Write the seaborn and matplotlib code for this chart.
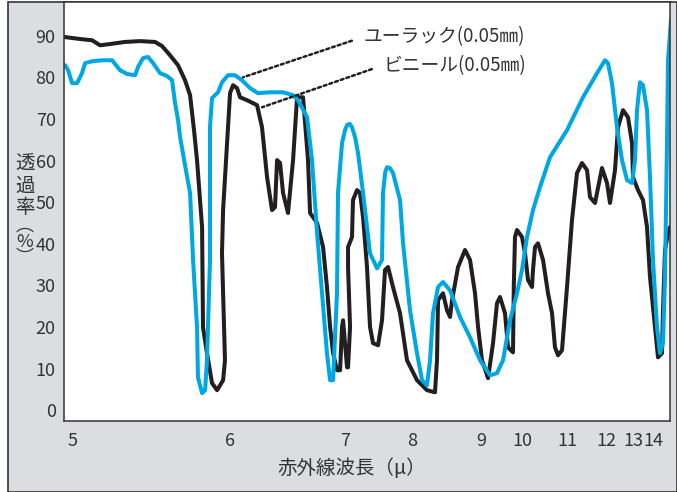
import matplotlib
matplotlib.use('Agg')
import matplotlib.pyplot as plt
import seaborn as sns
import numpy as np
from matplotlib.patches import Rectangle

# wavelength (micron) / transmittance (%)
black_wl = [4.949, 5.051, 5.127, 5.177, 5.241, 5.335, 5.430, 5.525, 5.570, 5.620,
            5.671, 5.715, 5.747, 5.772, 5.791, 5.823, 5.829, 5.854, 5.886, 5.918,
            5.956, 5.968, 5.956, 5.949, 5.956, 5.981, 6.000, 6.026, 6.061, 6.087,
            6.148, 6.235, 6.278, 6.322, 6.365, 6.391, 6.409, 6.435, 6.461, 6.504,
            6.548, 6.583, 6.635, 6.678, 6.696, 6.757, 6.809, 6.843, 6.870, 6.896,
            6.930, 6.957, 6.974, 6.983, 7.000, 7.030, 7.045, 7.075, 7.045, 7.045,
            7.104, 7.119, 7.179, 7.224, 7.269, 7.328, 7.373, 7.418, 7.493, 7.552,
            7.597, 7.642, 7.716, 7.821, 7.925, 8.072, 8.217, 8.333, 8.362, 8.377,
            8.449, 8.507, 8.551, 8.580, 8.667, 8.768, 8.841, 8.913, 8.957, 9.024,
            9.171, 9.293, 9.390, 9.463, 9.585, 9.659, 9.780, 9.800, 9.829, 9.878,
            10.000, 10.067, 10.133, 10.222, 10.244, 10.289, 10.356, 10.467, 10.578, 10.667,
            10.733, 10.800, 10.889, 11.000, 11.128, 11.256, 11.385, 11.513, 11.590, 11.718,
            11.897, 12.037, 12.148, 12.333, 12.444, 12.630, 12.815, 12.963, 13.000, 13.250,
            13.500, 13.700, 13.850, 14.100, 14.250, 14.450, 14.500, 14.600, 14.750, 14.850]
black_pct = [89.7, 89.2, 88.9, 87.7, 88.0, 88.5, 88.7, 88.5, 87.5, 85.3,
             82.9, 79.3, 75.7, 67.3, 60.1, 44.0, 19.9, 13.7, 6.5, 4.8,
             7.2, 12.0, 28.1, 37.7, 48.1, 64.2, 76.2, 78.1, 77.4, 75.2,
             74.5, 73.3, 68.0, 56.0, 48.1, 48.8, 60.1, 59.4, 52.2, 47.4,
             60.1, 75.2, 75.2, 60.1, 47.4, 45.0, 39.2, 29.6, 20.0, 13.7,
             9.6, 9.6, 20.0, 21.6, 16.1, 10.3, 10.3, 20.0, 34.4, 39.2,
             41.6, 50.5, 52.9, 52.2, 46.4, 34.4, 20.0, 16.1, 15.6, 21.6,
             33.7, 34.4, 29.6, 23.3, 12.0, 7.2, 4.8, 4.3, 12.0, 26.4,
             28.1, 24.0, 22.4, 26.4, 34.4, 38.5, 36.1, 28.1, 20.0, 12.0,
             7.7, 16.1, 25.7, 27.2, 23.3, 15.1, 13.9, 30.0, 41.6, 43.3,
             41.6, 37.7, 31.3, 29.6, 33.7, 39.2, 40.1, 36.1, 28.1, 23.3,
             15.1, 13.2, 14.4, 29.6, 45.7, 57.0, 59.4, 57.7, 51.2, 49.8,
             58.2, 54.6, 49.8, 57.7, 68.0, 72.1, 70.4, 64.2, 56.0, 52.9,
             50.5, 44.0, 32.0, 20.0, 12.7, 13.7, 24.0, 38.5, 42.5, 44.0]

blue_wl = [4.956, 4.975, 5.000, 5.032, 5.063, 5.082, 5.133, 5.196, 5.253, 5.304,
           5.348, 5.399, 5.418, 5.449, 5.481, 5.513, 5.557, 5.601, 5.633, 5.652,
           5.671, 5.684, 5.715, 5.747, 5.766, 5.791, 5.797, 5.823, 5.842, 5.854,
           5.873, 5.873, 5.886, 5.924, 5.949, 5.987, 6.043, 6.104, 6.174, 6.243,
           6.348, 6.461, 6.548, 6.591, 6.670, 6.713, 6.757, 6.800, 6.843, 6.870,
           6.896, 6.930, 6.939, 6.974, 7.000, 7.030, 7.070, 7.104, 7.150, 7.194,
           7.269, 7.328, 7.373,
           7.478, 7.552, 7.567, 7.600, 7.627, 7.670, 7.716, 7.821, 7.866, 7.970,
           8.072, 8.145,
           8.217, 8.261, 8.304, 8.377, 8.449, 8.551, 8.696, 8.841, 8.986, 9.220,
           9.390, 9.537, 9.707, 9.878, 10.000, 10.111, 10.244, 10.400, 10.622, 11.000,
           11.410, 11.769, 11.974, 12.074, 12.222, 12.407, 12.593, 12.778, 12.963, 13.100,
           13.200, 13.350, 13.500, 13.700, 13.850, 14.000, 14.200, 14.350, 14.500, 14.600,
           14.700, 14.750, 14.900]
blue_pct = [82.9, 81.7, 78.6, 78.6, 81.0, 83.4, 83.9, 84.1, 84.1, 81.7,
            80.8, 80.5, 82.5, 84.6, 84.9, 83.4, 81.0, 80.3, 79.3, 73.8,
            69.7, 65.6, 58.9, 52.2, 36.1, 20.0, 7.9, 4.1, 4.8, 12.0,
            36.1, 68.0, 75.0, 76.4, 78.8, 80.5, 80.5, 79.3, 77.4, 76.2,
            76.4, 76.4, 75.7, 74.5, 70.4, 60.1, 42.5, 28.1, 13.7, 7.2,
            7.2, 28.1, 52.2, 64.2, 67.3, 68.5, 68.8, 68.0, 65.6, 61.8,
            52.2, 44.0, 37.7,
            34.1, 36.1, 52.2, 57.2, 58.4, 58.2, 57.0, 50.5, 40.1, 24.0,
            13.7, 7.2,
            6.0, 12.0, 23.3, 29.6, 30.8, 28.8, 22.4, 17.5, 12.0, 8.4,
            8.9, 12.0, 21.6, 28.1, 33.7, 41.6, 48.1, 53.6, 60.8, 67.3,
            75.2, 81.0, 84.1, 83.4, 78.6, 68.0, 60.1, 55.3, 54.6, 60.1,
            72.1, 78.8, 78.1, 72.1, 56.0, 36.1, 20.0, 13.7, 16.1, 32.0,
            64.2, 84.1, 93.8]

x_ticks = [5, 6, 7, 8, 9, 10, 11, 12, 13, 14]
y_ticks = [0, 10, 20, 30, 40, 50, 60, 70, 80, 90]
label_a = 'ユーラック(0.05㎜)'
label_b = 'ビニール(0.05㎜)'

# the instrument's non-uniform wavelength axis: pixel position of each tick
scale_wl = [4.9] + x_ticks + [15.0]
scale_px = [56.2, 72, 230, 345, 412, 481, 522, 567, 606, 633, 653, 673]


def fwd(v):
    return np.interp(v, scale_wl, scale_px)


def inv(p):
    return np.interp(p, scale_px, scale_wl)


sns.set_style('white')
plt.rcParams['font.family'] = ['Noto Sans CJK JP', 'DejaVu Sans']

W, H = 677, 492
fig = plt.figure(figsize=(W / 100, H / 100), dpi=100)
fig.patch.set_facecolor('white')
fig.patches.append(Rectangle((8 / W, 0), 1 - 8 / W, 1 - 2 / H, transform=fig.transFigure,
                             facecolor='#dcdde0', edgecolor='#333333', lw=1.2, zorder=-5))

ax = fig.add_axes([64 / W, 1 - 421 / H, 606 / W, 419 / H])
ax.set_zorder(2)
ax.set_facecolor('white')
ax.set_xscale('function', functions=(fwd, inv))

sns.lineplot(x=black_wl, y=black_pct, sort=False, estimator=None, color='#231f20',
             lw=2.9, ax=ax, solid_joinstyle='round', solid_capstyle='round')
sns.lineplot(x=blue_wl, y=blue_pct, sort=False, estimator=None, color='#00a8e3',
             lw=2.9, ax=ax, solid_joinstyle='round', solid_capstyle='round')

ax.set_xlim(4.949, 14.85)
ax.set_ylim(-2.6, 98.1)
ax.set_xticks(x_ticks)
ax.set_xticklabels([str(t) for t in x_ticks])
ax.set_yticks(y_ticks)
ax.set_yticklabels([str(t) for t in y_ticks])
ax.tick_params(length=0, labelsize=13, colors='#333333')
ax.tick_params(axis='x', pad=8)
ax.tick_params(axis='y', pad=6)
ax.minorticks_off()
for s in ax.spines.values():
    s.set_color('#333333')
    s.set_linewidth(1.1)
ax.set_xlabel('')
ax.set_ylabel('')

dots = dict(arrowstyle='-', color='#231f20', lw=1.8, linestyle=(0, (1.2, 1.2)),
            relpos=(0, 0.5), shrinkA=6, shrinkB=0)
ax.annotate(label_a, xy=(6.113, 80.0), xytext=(7.269, 89.7), fontsize=13.5,
            color='#333333', va='center', ha='left', arrowprops=dots)
ax.annotate(label_b, xy=(6.278, 72.8), xytext=(7.567, 82.9), fontsize=13.5,
            color='#333333', va='center', ha='left', arrowprops=dots)

fig.text(352 / W, 1 - 468 / H, '赤外線波長（μ）', ha='center', va='center',
         fontsize=14, color='#333333')
# vertical y label: characters stacked upright, brackets in vertical form
fig.text(25 / W, 1 - 186 / H, '透\n過\n率', ha='center', va='center', fontsize=14,
         color='#333333', linespacing=1.05)
fig.text(25 / W, 1 - 242 / H, '︵\n%\n︶', ha='center', va='center', fontsize=13,
         color='#333333', linespacing=0.88)

fig.savefig('out.png', dpi=100)
